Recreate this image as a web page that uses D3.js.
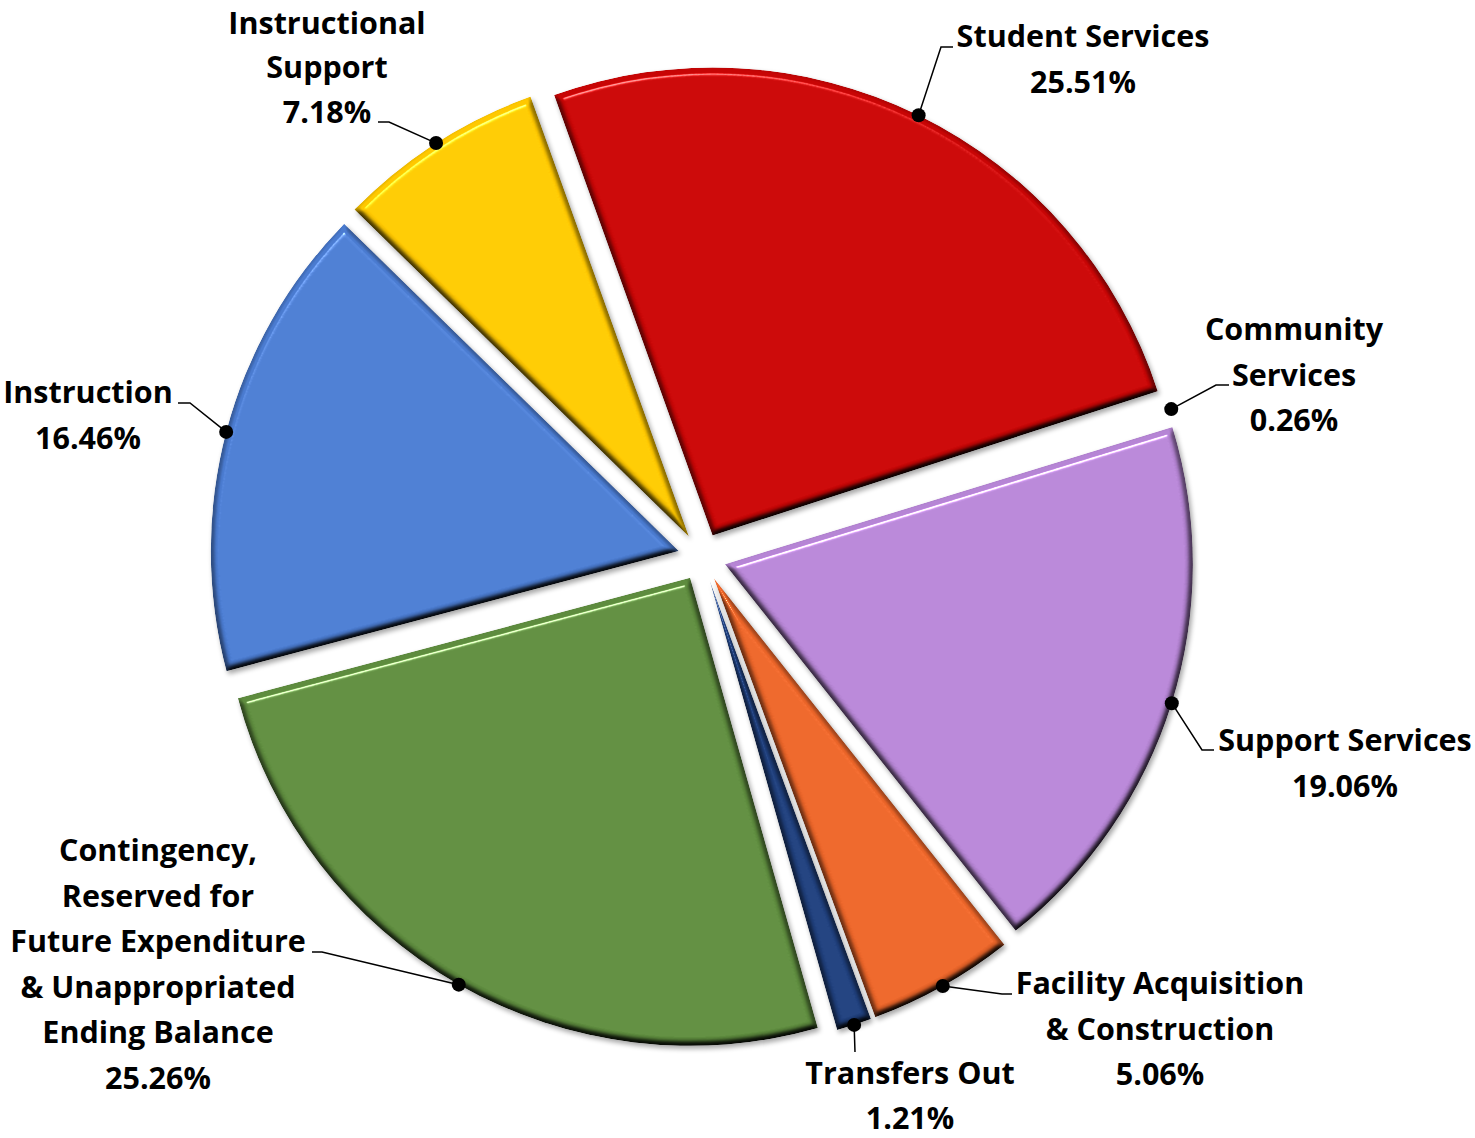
<!DOCTYPE html>
<html>
<head>
<meta charset="utf-8">
<script src="https://cdn.jsdelivr.net/npm/d3@7"></script>
<style>
  html, body { margin: 0; padding: 0; background: #ffffff; }
  svg { display: block; }
  .lbl { font-family: "Open Sans", Lato, sans-serif; font-weight: 700; fill: #000; }
</style>
</head>
<body>
<svg id="chart" width="1475" height="1138"></svg>
<script>
// ---- data ----
const categories = [
  "Instruction",
  "Instructional\nSupport",
  "Student Services",
  "Community\nServices",
  "Support Services",
  "Facility Acquisition\n& Construction",
  "Transfers Out",
  "Contingency,\nReserved for\nFuture Expenditure\n& Unappropriated\nEnding Balance"
];
const percents = [16.46, 7.18, 25.51, 0.26, 19.06, 5.06, 1.21, 25.26];
const colors = ["#4A7BD0", "#FFC800", "#C80505", "#FFFFFF", "#B685D5", "#EA6428", "#1F3F7C", "#5E8C3E"];

// ---- layout (positions only) ----
const W = 1475, H = 1138;
const cx = 702, cy = 557, R = 468, explode = 24;
const startDeg = 255.1;
// label block: center x, first baseline y; leader: elbow and end points
const labelLayout = [
  { x: 88,   y: 403, elbow: [190, 403],  end: [178, 403] },
  { x: 327,  y: 33.5, lineH: 44.5, elbow: [389, 122],  end: [378, 122] },
  { x: 1083, y: 47,  elbow: [941, 47],   end: [953, 47] },
  { x: 1294, y: 340, elbow: [1216, 385], end: [1229, 385] },
  { x: 1345, y: 751, elbow: [1202, 750], end: [1214, 750] },
  { x: 1160, y: 994, elbow: [1002, 994], end: [1012, 994] },
  { x: 910,  y: 1084, lineH: 44.5, elbow: [855, 1052], end: [855, 1052] },
  { x: 158,  y: 861, elbow: [322, 952],  end: [312, 952] }
];
const fontSize = 30.5, lineH = 45.5;

const svg = d3.select("#chart");
const defs = svg.append("defs");

// bevel + shadow filter
const f = defs.append("filter").attr("id", "bevel")
  .attr("x", "-10%").attr("y", "-10%").attr("width", "120%").attr("height", "120%")
  .attr("color-interpolation-filters", "sRGB");
f.append("feGaussianBlur").attr("in", "SourceAlpha").attr("stdDeviation", 3).attr("result", "blur");
const dl = f.append("feDiffuseLighting").attr("in", "blur").attr("surfaceScale", 7)
  .attr("diffuseConstant", 1.13).attr("lighting-color", "#ffffff").attr("result", "diff");
dl.append("feDistantLight").attr("azimuth", 255).attr("elevation", 62);
const sl = f.append("feSpecularLighting").attr("in", "blur").attr("surfaceScale", 7)
  .attr("specularConstant", 0.6).attr("specularExponent", 110).attr("lighting-color", "#ffffff").attr("result", "spec");
sl.append("feDistantLight").attr("azimuth", 255).attr("elevation", 62);
f.append("feComposite").attr("in", "SourceGraphic").attr("in2", "diff").attr("operator", "arithmetic")
  .attr("k1", 1).attr("k2", 0).attr("k3", 0).attr("k4", 0).attr("result", "lit");
f.append("feComposite").attr("in", "spec").attr("in2", "SourceAlpha").attr("operator", "in").attr("result", "specIn");
f.append("feComposite").attr("in", "lit").attr("in2", "specIn").attr("operator", "arithmetic")
  .attr("k1", 0).attr("k2", 1).attr("k3", 1).attr("k4", 0).attr("result", "sum");
f.append("feComposite").attr("in", "sum").attr("in2", "SourceAlpha").attr("operator", "in").attr("result", "body");
// drop shadow
f.append("feGaussianBlur").attr("in", "SourceAlpha").attr("stdDeviation", 2.5).attr("result", "sb");
f.append("feOffset").attr("in", "sb").attr("dx", 1.5).attr("dy", 2.5).attr("result", "so");
f.append("feComponentTransfer").attr("in", "so").attr("result", "shadow")
  .append("feFuncA").attr("type", "linear").attr("slope", 0.35);
const fm = f.append("feMerge");
fm.append("feMergeNode").attr("in", "shadow");
fm.append("feMergeNode").attr("in", "body");

const data = categories.map((c, i) => ({ name: c, value: percents[i], color: colors[i] }));

const start = startDeg * Math.PI / 180;
const pie = d3.pie().sort(null).value(d => d.value)
  .startAngle(start).endAngle(start + 2 * Math.PI);
const arcs = pie(data);
const arc = d3.arc().innerRadius(0).outerRadius(R);

const g = svg.append("g").attr("transform", `translate(${cx},${cy})`);

function offs(a) {
  const m = (a.startAngle + a.endAngle) / 2;
  return [Math.sin(m) * explode, -Math.cos(m) * explode];
}

g.selectAll("path.slice").data(arcs).enter().append("path")
  .attr("class", "slice")
  .attr("d", arc)
  .attr("fill", d => d.data.color)
  .attr("filter", d => d.data.color === "#FFFFFF" ? null : "url(#bevel)")
  .attr("transform", d => { const o = offs(d); return `translate(${o[0]},${o[1]})`; });

// leader lines & dots
const fmt = v => v.toFixed(2) + "%";
arcs.forEach((a, i) => {
  const L = labelLayout[i];
  const lh = L.lineH || lineH;
  const m = (a.startAngle + a.endAngle) / 2;
  const o = offs(a);
  const px = cx + o[0] + Math.sin(m) * R;
  const py = cy + o[1] - Math.cos(m) * R;
  svg.append("path")
    .attr("d", d3.line()([[px, py], L.elbow, L.end]))
    .attr("fill", "none").attr("stroke", "#000").attr("stroke-width", 1.5);
  svg.append("circle").attr("cx", px).attr("cy", py).attr("r", 7).attr("fill", "#000");

  const lines = a.data.name.split("\n").concat([fmt(a.data.value)]);
  const t = svg.append("text").attr("class", "lbl")
    .attr("font-size", fontSize).attr("text-anchor", "middle");
  lines.forEach((ln, k) => {
    t.append("tspan").attr("x", L.x).attr("y", L.y + k * lh).text(ln);
  });
});
</script>
</body>
</html>
